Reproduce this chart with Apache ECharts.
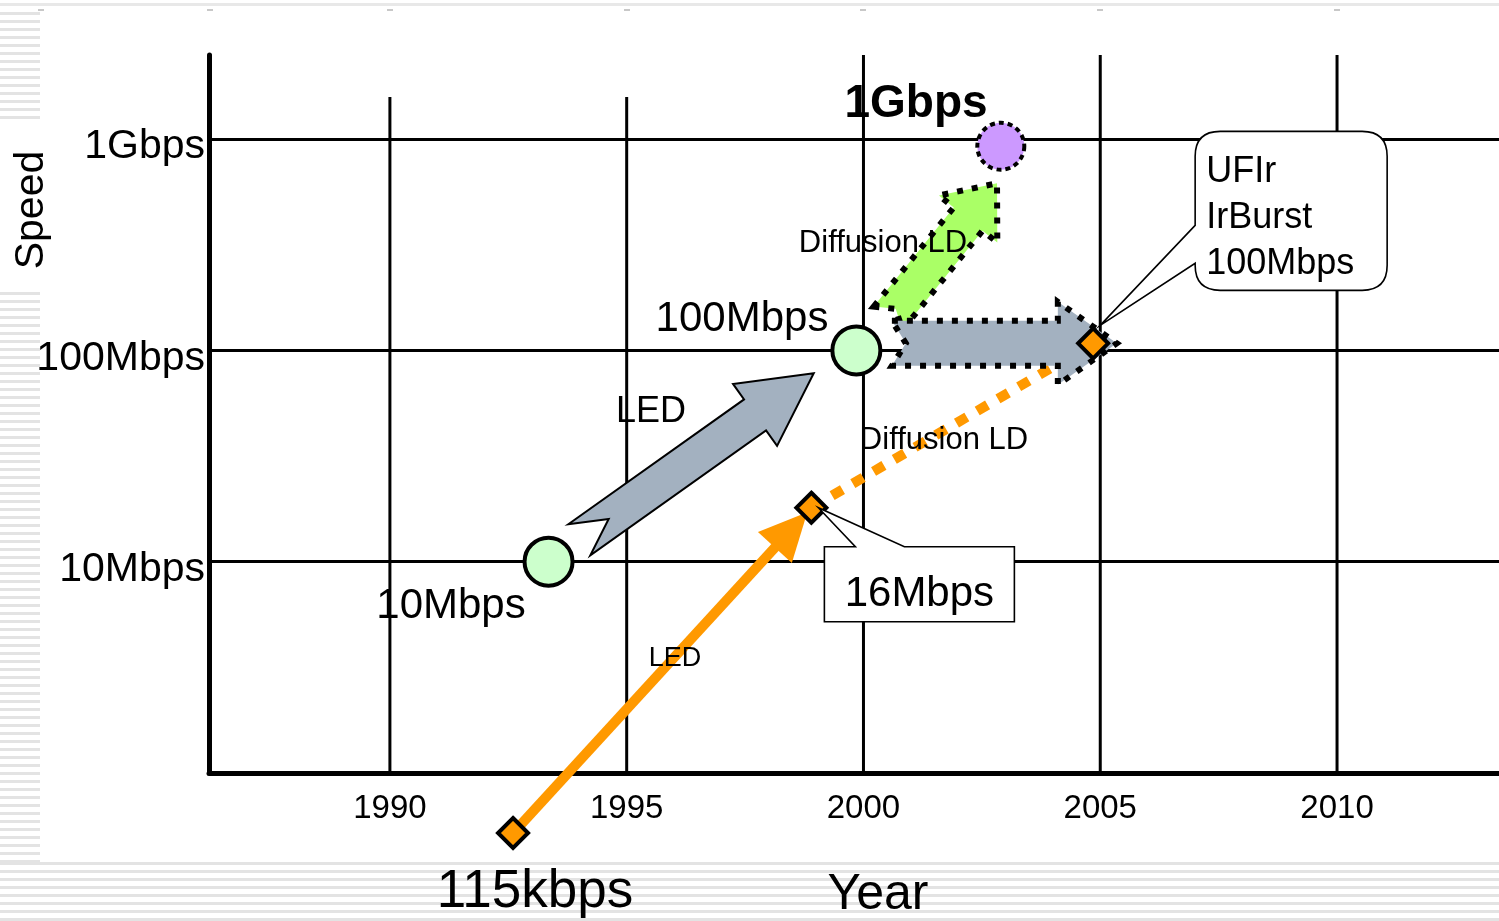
<!DOCTYPE html>
<html>
<head>
<meta charset="utf-8">
<script src="https://cdn.jsdelivr.net/npm/echarts@6/dist/echarts.min.js"></script>
<style>
html,body{margin:0;padding:0;background:#fff;}
#wrap{position:relative;width:1499px;height:921px;overflow:hidden;background:#fff;}
.stripe{position:absolute;background:repeating-linear-gradient(to bottom,#e3e3e3 0px,#e3e3e3 3px,#ffffff 3px,#ffffff 8px);}
.tk{position:absolute;top:9px;width:6px;height:2px;background:#c8c8c8;}
#chart{position:absolute;left:0;top:0;width:1499px;height:921px;}
</style>
</head>
<body>
<div id="wrap">
  <div style="position:absolute;left:0;top:3px;width:1499px;height:3px;background:#e8e8e8"></div>
  <div class="stripe" style="left:0;top:12px;width:40px;height:112px"></div>
  <div class="stripe" style="left:0;top:292px;width:40px;height:570px"></div>
  <div class="stripe" style="left:0;top:862px;width:1499px;height:59px"></div>
  <div class="tk" style="left:38px"></div><div class="tk" style="left:207px"></div>
  <div class="tk" style="left:387px"></div><div class="tk" style="left:624px"></div>
  <div class="tk" style="left:860px"></div><div class="tk" style="left:1097px"></div>
  <div class="tk" style="left:1334px"></div>
  <div id="chart"></div>
</div>
<script>
// ---------------- data (positions as drawn on the slide) ----------------
const yearTicks = [1990, 1995, 2000, 2005, 2010];
const gridTopSpeeds = [1580, 1580, 2500, 2500, 2500];      // top of each vertical grid line (Mbps)
const speedTicks = [10, 100, 1000];                         // Mbps
const speedTickLabels = ['10Mbps', '100Mbps', '1Gbps'];

// milestones (green circles)
const circleLabels = ['10Mbps', '100Mbps'];
const circleYears = [1993.35, 1999.85];
const circleSpeeds = [10, 100];

// target (purple dotted circle)
const targetLabels = ['1Gbps'];
const targetYears = [2002.9];
const targetSpeeds = [925];

// orange diamonds
const irdaLabels = ['115kbps', '16Mbps', 'UFIr\nIrBurst\n100Mbps'];
const irdaYears = [1992.6, 1998.9, 2004.85];
const irdaSpeeds = [0.52, 18, 108];

// block arrows
const arrowLabels = ['LED', 'Diffusion LD', 'Diffusion LD'];
const arrowFromYears = [1994.0, 2000.52, 2000.6];
const arrowFromSpeeds = [12.7, 142, 108];
const arrowToYears = [1998.95, 2002.82, 2005.35];
const arrowToSpeeds = [78, 618, 108];

// ---------------- styles ----------------
const FONT = "'Liberation Sans', Arial, sans-serif";
const X_MIN = 1986.18, X_MAX = 2013.42;
const arrowStyles = [
  {fill:'#A3B1C0', lw:2, dash:null, shaft:38, head:76, headLen:72, notch:36},
  {fill:'#AAFF66', lw:6, dash:[6,9], shaft:37, head:75, headLen:46, notch:12},
  {fill:'#A3B1C0', lw:6, dash:[6,9], shaft:45, head:83, headLen:59, notch:14}
];
const calloutShapes = [
  {box:[13,39,203,114], base:[44,93], tip:[7,0], r:0, fs:42},
  {box:[102,-212,294,-53], base:[-118,-80], tip:[7,-18], r:25, fs:36, lh:46}
];

function arrowPoly(p0, p1, s) {
  const dx = p1[0]-p0[0], dy = p1[1]-p0[1];
  const L = Math.hypot(dx, dy);
  const ux = dx/L, uy = dy/L, nx = -uy, ny = ux;
  const pt = (a, b) => [p0[0]+ux*a+nx*b, p0[1]+uy*a+ny*b];
  const hb = L - s.headLen;
  return [pt(0,-s.shaft/2), pt(hb,-s.shaft/2), pt(hb,-s.head/2), pt(L,0),
          pt(hb,s.head/2), pt(hb,s.shaft/2), pt(0,s.shaft/2), pt(s.notch,0)];
}

const chart = echarts.init(document.getElementById('chart'), null, {renderer:'canvas'});

const texts = [
  {t:'Speed', x:32, y:210, s:41, rot:Math.PI/2},
  {t:targetLabels[0], x:916, y:104, s:46, w:'bold'},
  {t:circleLabels[1], x:742, y:319, s:42},
  {t:circleLabels[0], x:451, y:606, s:42},
  {t:arrowLabels[0], x:651, y:412, s:36},
  {t:arrowLabels[1], x:883, y:243, s:31},
  {t:arrowLabels[2], x:944, y:440, s:31},
  {t:'LED', x:675, y:659, s:27},
  {t:irdaLabels[0], x:535, y:892, s:53},
  {t:'Year', x:878, y:895, s:50}
];

const option = {
  animation: false,
  grid: {left:209, right:0, top:55, bottom:148, containLabel:false, outerBoundsMode:'none'},
  xAxis: {
    type:'value', min:X_MIN, max:X_MAX, splitNumber:5,
    axisLine:{show:true, onZero:false, lineStyle:{color:'#000', width:5}},
    axisTick:{show:false},
    splitLine:{show:false},
    axisLabel:{
      show:true, color:'#000', fontSize:33, fontFamily:FONT, margin:19,
      showMinLabel:false, showMaxLabel:false,
      formatter: v => {
        const r = Math.round(v);
        return (Math.abs(v - r) < 1e-6 && yearTicks.indexOf(r) >= 0) ? String(r) : '';
      }
    }
  },
  yAxis: {
    type:'log', logBase:10, min:1, max:2500,
    axisLine:{show:true, onZero:false, lineStyle:{color:'#000', width:5}},
    axisTick:{show:false},
    splitLine:{show:true, showMinLine:false, showMaxLine:false, lineStyle:{color:'#000', width:3}},
    axisLabel:{
      show:true, color:'#000', fontSize:41, fontFamily:FONT, margin:4,
      verticalAlign:'top', lineHeight:16,
      showMinLabel:false, showMaxLabel:false,
      formatter: v => {
        const i = speedTicks.findIndex(t => Math.abs(t - v) / t < 1e-6);
        return i >= 0 ? speedTickLabels[i] : '';
      }
    }
  },
  graphic: texts.map(o => ({
    type:'text', x:o.x, y:o.y, rotation:o.rot || 0, z:50, silent:true,
    style:{text:o.t, fill:'#000', fontSize:o.s, fontFamily:FONT, fontWeight:o.w || 'normal',
           textAlign:'center', verticalAlign:'middle'}
  })),
  series: [
    { // vertical grid lines
      type:'custom', z:1, silent:true, clip:false,
      data: yearTicks.map((y, i) => [y, 1, gridTopSpeeds[i]]),
      encode:{x:0, y:[1,2]},
      renderItem(params, api) {
        const a = api.coord([api.value(0), api.value(1)]);
        const b = api.coord([api.value(0), api.value(2)]);
        return {type:'line', shape:{x1:a[0], y1:a[1], x2:b[0], y2:b[1]}, style:{stroke:'#000', lineWidth:3}};
      }
    },
    { // orange progress lines
      type:'custom', z:2, silent:true, clip:false,
      data: [[irdaYears[0], irdaSpeeds[0], irdaYears[1], irdaSpeeds[1]],
             [irdaYears[1], irdaSpeeds[1], irdaYears[2], irdaSpeeds[2]]],
      encode:{x:[0,2], y:[1,3]},
      renderItem(params, api) {
        const p0 = api.coord([api.value(0), api.value(1)]);
        const p1 = api.coord([api.value(2), api.value(3)]);
        if (params.dataIndex === 1) {
          return {type:'line', shape:{x1:p0[0], y1:p0[1], x2:p1[0], y2:p1[1]},
                  style:{stroke:'#FF9900', lineWidth:10, lineDash:[12,12]}};
        }
        const dx = p1[0]-p0[0], dy = p1[1]-p0[1], L = Math.hypot(dx, dy);
        const ux = dx/L, uy = dy/L, nx = -uy, ny = ux;
        const tip = [p1[0]-ux*6, p1[1]-uy*6];
        const base = [tip[0]-ux*48, tip[1]-uy*48];
        return {type:'group', children:[
          {type:'line', shape:{x1:p0[0], y1:p0[1], x2:base[0]+ux*4, y2:base[1]+uy*4},
           style:{stroke:'#FF9900', lineWidth:10}},
          {type:'polygon', shape:{points:[tip, [base[0]+nx*23, base[1]+ny*23], [base[0]-nx*23, base[1]-ny*23]]},
           style:{fill:'#FF9900'}}
        ]};
      }
    },
    { // block arrows
      type:'custom', z:3, silent:true, clip:false,
      data: arrowFromYears.map((y, i) => [y, arrowFromSpeeds[i], arrowToYears[i], arrowToSpeeds[i]]),
      encode:{x:[0,2], y:[1,3]},
      renderItem(params, api) {
        const s = arrowStyles[params.dataIndex];
        const p0 = api.coord([api.value(0), api.value(1)]);
        const p1 = api.coord([api.value(2), api.value(3)]);
        return {type:'polygon', shape:{points:arrowPoly(p0, p1, s)},
                style:{fill:s.fill, stroke:'#000', lineWidth:s.lw, lineDash:s.dash, lineJoin:'miter'}};
      }
    },
    { // green circles
      type:'scatter', z:5, silent:true, clip:false, symbol:'circle', symbolSize:48,
      data: circleYears.map((y, i) => [y, circleSpeeds[i]]),
      itemStyle:{color:'#CCFFCC', borderColor:'#000', borderWidth:4, opacity:1}
    },
    { // purple target
      type:'scatter', z:5, silent:true, clip:false, symbol:'circle', symbolSize:47,
      data: targetYears.map((y, i) => [y, targetSpeeds[i]]),
      itemStyle:{color:'#CC99FF', borderColor:'#000', borderWidth:4, borderType:[5,4], opacity:1}
    },
    { // orange diamonds
      type:'scatter', z:6, silent:true, clip:false, symbol:'diamond', symbolSize:30,
      data: irdaYears.map((y, i) => [y, irdaSpeeds[i]]),
      itemStyle:{color:'#FF9900', borderColor:'#000', borderWidth:4, opacity:1}
    },
    { // callouts
      type:'custom', z:7, silent:true, clip:false,
      data: [[irdaYears[1], irdaSpeeds[1], 0], [irdaYears[2], irdaSpeeds[2], 1]],
      encode:{x:0, y:1},
      renderItem(params, api) {
        const c = api.coord([api.value(0), api.value(1)]);
        const k = api.value(2);
        const g = calloutShapes[k];
        const L = c[0]+g.box[0], T = c[1]+g.box[1], R = c[0]+g.box[2], B = c[1]+g.box[3];
        const tx = c[0]+g.tip[0], ty = c[1]+g.tip[1];
        let d, txt;
        if (k === 0) {
          const b1 = c[0]+g.base[0], b2 = c[0]+g.base[1];
          d = `M${L} ${T}L${b1} ${T}L${tx} ${ty}L${b2} ${T}L${R} ${T}L${R} ${B}L${L} ${B}Z`;
          txt = {type:'text', style:{x:(L+R)/2, y:(T+B)/2+10, text:irdaLabels[1], fill:'#000',
                 fontSize:g.fs, fontFamily:FONT, textAlign:'center', verticalAlign:'middle'}};
        } else {
          const r = g.r, y1 = c[1]+g.base[0], y2 = c[1]+g.base[1];
          d = `M${L+r} ${T}L${R-r} ${T}Q${R} ${T} ${R} ${T+r}L${R} ${B-r}Q${R} ${B} ${R-r} ${B}` +
              `L${L+r} ${B}Q${L} ${B} ${L} ${B-r}L${L} ${y2}L${tx} ${ty}L${L} ${y1}L${L} ${T+r}Q${L} ${T} ${L+r} ${T}Z`;
          txt = {type:'text', style:{x:L+11, y:T+18, text:irdaLabels[2], fill:'#000',
                 fontSize:g.fs, fontFamily:FONT, textAlign:'left', verticalAlign:'top', lineHeight:g.lh}};
        }
        return {type:'group', children:[
          {type:'path', shape:{pathData:d}, style:{fill:'#fff', stroke:'#000', lineWidth:1.6}},
          txt
        ]};
      }
    }
  ]
};
chart.setOption(option);
</script>
</body>
</html>
